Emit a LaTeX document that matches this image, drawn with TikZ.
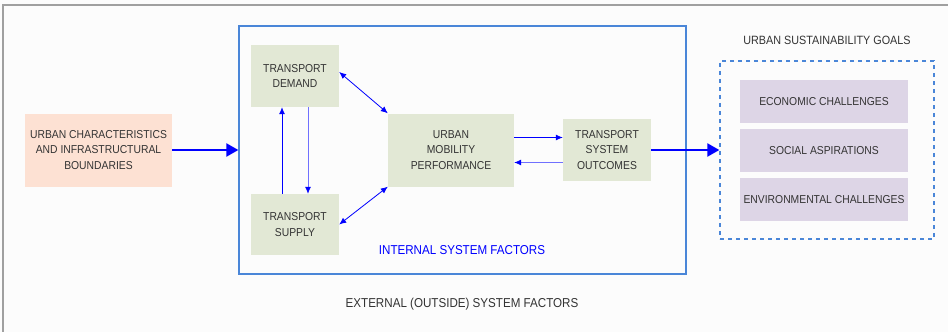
\documentclass[tikz,border=0pt]{standalone}
\usepackage{fontspec}
\setmainfont{Liberation Sans}[FakeStretch=0.9]
\usetikzlibrary{arrows.meta}
\definecolor{bgc}{HTML}{FCFCFC}
\definecolor{sage}{HTML}{E2E8D5}
\definecolor{peach}{HTML}{FDE1D3}
\definecolor{lilac}{HTML}{DDD5E6}
\definecolor{frameblue}{HTML}{4A86D8}
\definecolor{txt}{HTML}{333333}
\definecolor{framegray}{HTML}{A0A0A0}
\definecolor{arrblue}{HTML}{0000FF}
\definecolor{lightarr}{HTML}{7070FF}
\tikzset{
  boxtext/.style={font=\fontsize{11.5}{15.5}\selectfont, text=txt, align=center, inner sep=0pt},
  greenbox/.style={boxtext, fill=sage},
  peachbox/.style={boxtext, fill=peach},
  lilacbox/.style={boxtext, fill=lilac, minimum width=168pt, minimum height=43pt},
  thin arrow/.style={draw=arrblue, line width=0.8pt, -{Latex[length=7pt,width=6pt]}},
  light arrow/.style={draw=lightarr, line width=0.8pt, -{Latex[length=7pt,width=6pt,color=arrblue]}},
  both arrow/.style={draw=arrblue, line width=0.8pt, {Latex[length=7pt,width=6pt]}-{Latex[length=7pt,width=6pt]}},
  thick arrow/.style={draw=arrblue, line width=2.2pt, -{Triangle[length=12pt,width=13pt]}},
}
\begin{document}
\begin{tikzpicture}[x=1pt,y=-1pt]
\fill[bgc] (0,0) rectangle (948,332);
\useasboundingbox (0,0) rectangle (948,332);
% outer frame (partly visible)
\draw[framegray, line width=1.3pt] (3,332) -- (3,5) -- (948,5);

% internal system box
\node[draw=frameblue, line width=1.3pt, minimum width=447pt, minimum height=248pt, inner sep=0pt] (internal) at (462.5,150) {};
% goals dashed box
\node[draw=frameblue, line width=1.3pt, dash pattern=on 4pt off 4pt, minimum width=214pt, minimum height=178pt, inner sep=0pt] (goals) at (827,150) {};

\node[peachbox, minimum width=147pt, minimum height=73pt] (uc) at (98.5,150) {URBAN CHARACTERISTICS\\AND INFRASTRUCTURAL\\BOUNDARIES};
\node[greenbox, minimum width=88pt, minimum height=62pt] (dem) at (295,76) {TRANSPORT\\DEMAND};
\node[greenbox, minimum width=88pt, minimum height=61pt] (sup) at (295,224.5) {TRANSPORT\\SUPPLY};
\node[greenbox, minimum width=126pt, minimum height=73pt] (ump) at (451,150) {URBAN\\MOBILITY\\PERFORMANCE};
\node[greenbox, minimum width=88pt, minimum height=62pt] (tso) at (607,150) {TRANSPORT\\SYSTEM\\OUTCOMES};

\node[lilacbox] (eco) at (824,101.5) {ECONOMIC CHALLENGES};
\node[lilacbox] (soc) at (824,150.5) {SOCIAL ASPIRATIONS};
\node[lilacbox] (env) at (824,199.5) {ENVIRONMENTAL CHALLENGES};

\node[font=\fontsize{12}{14}\selectfont, text=txt] (goaltitle) at (827,40) {URBAN SUSTAINABILITY GOALS};
\node[font=\fontsize{12.9}{15}\selectfont, text=arrblue] (intlabel) at (462,250) {INTERNAL SYSTEM FACTORS};
\node[font=\fontsize{12.9}{15}\selectfont, text=txt] (extlabel) at (462,304) {EXTERNAL (OUTSIDE) SYSTEM FACTORS};

% connectors
\draw[thick arrow] (uc.east) -- (internal.west);
\draw[thick arrow] (tso.east) -- (goals.west);
\draw[thin arrow] ([xshift=-13pt]sup.north) -- ([xshift=-13pt]dem.south);
\draw[light arrow] ([xshift=13pt]dem.south) -- ([xshift=13pt]sup.north);
\draw[both arrow] ([yshift=4pt]dem.east) -- (ump.north west);
\draw[both arrow] (sup.east) -- (ump.south west);
\draw[thin arrow] (ump.east |- 0,137.5) -- (tso.west |- 0,137.5);
\draw[light arrow] (tso.west |- 0,162.5) -- (ump.east |- 0,162.5);
\end{tikzpicture}
\end{document}
